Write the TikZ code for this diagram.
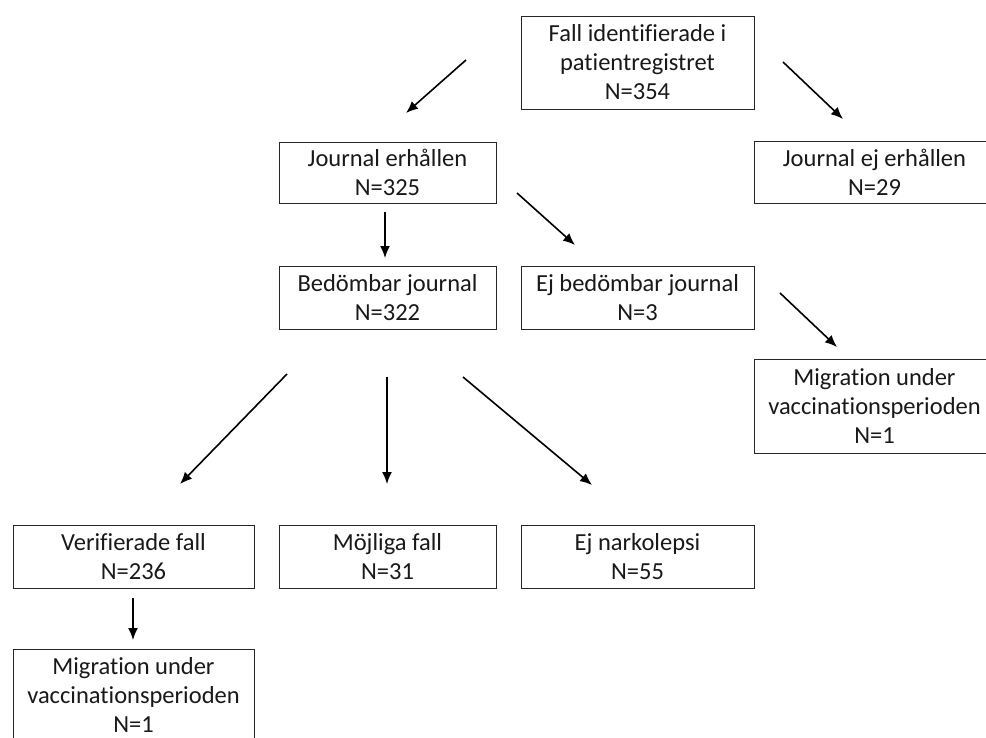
\documentclass[tikz,border=0pt]{standalone}
\usepackage{fontspec}
\setmainfont[Ligatures=NoCommon]{Carlito}
\usetikzlibrary{arrows.meta}
\begin{document}
\begin{tikzpicture}[x=1pt,y=-1pt,
  box/.style={draw=black!85,line width=1pt,align=center,inner sep=0pt,
    font=\fontsize{24.5}{29}\selectfont,text=black!90},
  arr/.style={-{Latex[length=12pt,width=10pt]},line width=1.6pt,black}]
\clip (0,0) rectangle (986,737);
\fill[white] (0,0) rectangle (986,737);
\node[box,minimum width=233pt,minimum height=93pt] (top) at (637.5,62.5) {Fall identifierade i\\patientregistret\\N=354};
\node[box,minimum width=217pt,minimum height=61pt] (je) at (387.5,172.5) {Journal erhållen\\N=325};
\node[box,minimum width=241pt,minimum height=62pt] (jne) at (874.5,172.5) {Journal ej erhållen\\N=29};
\node[box,minimum width=217pt,minimum height=63pt] (bj) at (387.5,297.5) {Bedömbar journal\\N=322};
\node[box,minimum width=233pt,minimum height=63pt] (ebj) at (637.5,297.5) {Ej bedömbar journal\\N=3};
\node[box,minimum width=241pt,minimum height=94pt] (mig1) at (874.5,406) {Migration under\\vaccinationsperioden\\N=1};
\node[box,minimum width=241pt,minimum height=63pt] (vf) at (133.5,556.5) {Verifierade fall\\N=236};
\node[box,minimum width=217pt,minimum height=63pt] (mf) at (387.5,556.5) {Möjliga fall\\N=31};
\node[box,minimum width=233pt,minimum height=63pt] (en) at (637.5,556.5) {Ej narkolepsi\\N=55};
\node[box,minimum width=241pt,minimum height=92pt] (mig2) at (133.5,695) {Migration under\\vaccinationsperioden\\N=1};
% arrow end points
\coordinate (a1s) at (466,60);  \coordinate (a1e) at (406,113);
\coordinate (a2s) at (783,62);  \coordinate (a2e) at (843,119);
\coordinate (a3s) at (385,212); \coordinate (a3e) at (385,258);
\coordinate (a4s) at (517,193); \coordinate (a4e) at (575,245);
\coordinate (a5s) at (780,293); \coordinate (a5e) at (837,347);
\coordinate (a6s) at (287,374); \coordinate (a6e) at (180,484);
\coordinate (a7s) at (387,377); \coordinate (a7e) at (387,484);
\coordinate (a8s) at (463,377); \coordinate (a8e) at (592,485);
\coordinate (a9s) at (133,598); \coordinate (a9e) at (133,640);
\draw[arr] (a1s) -- (a1e);
\draw[arr] (a2s) -- (a2e);
\draw[arr] (a3s) -- (a3e);
\draw[arr] (a4s) -- (a4e);
\draw[arr] (a5s) -- (a5e);
\draw[arr] (a6s) -- (a6e);
\draw[arr] (a7s) -- (a7e);
\draw[arr] (a8s) -- (a8e);
\draw[arr] (a9s) -- (a9e);
\end{tikzpicture}
\end{document}
